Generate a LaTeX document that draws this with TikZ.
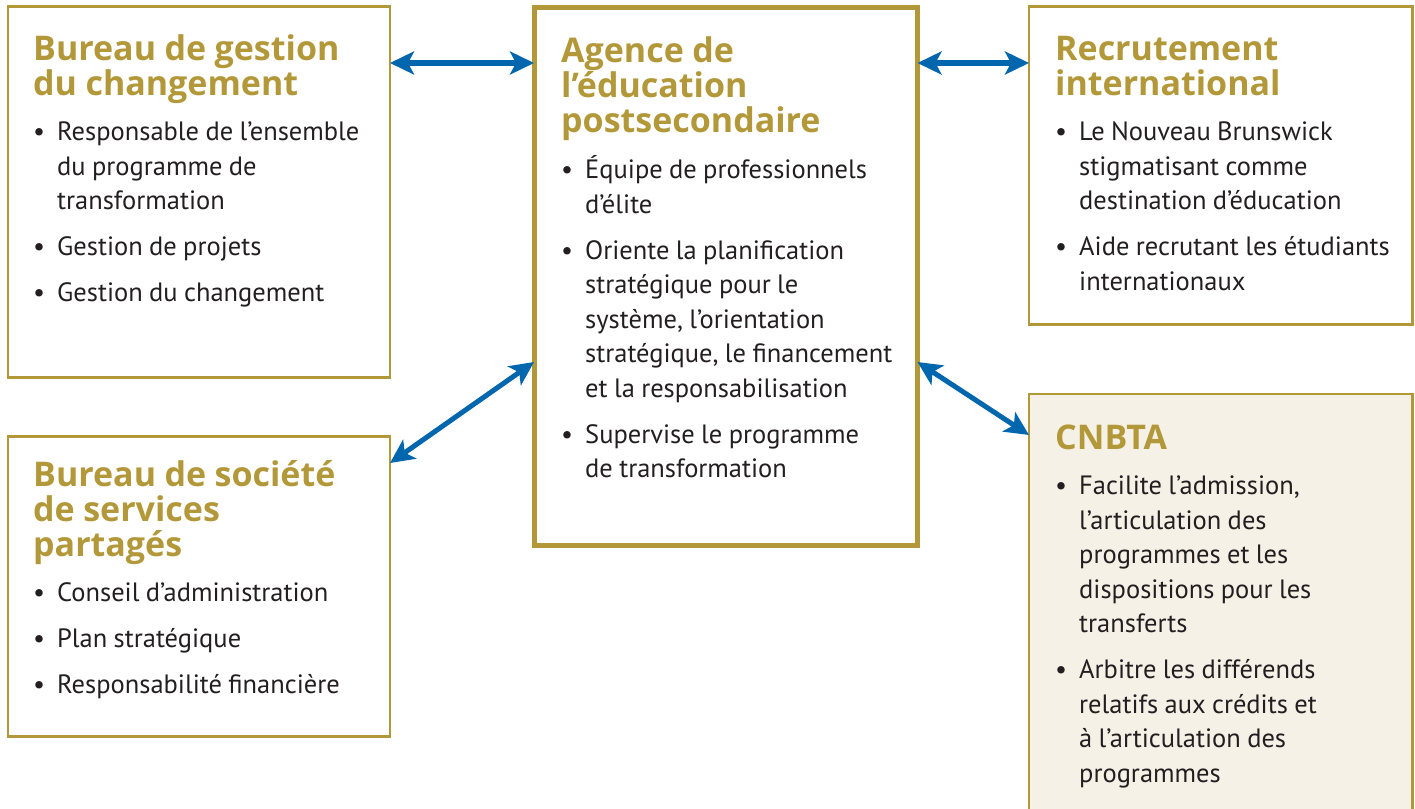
\documentclass[tikz,border=0pt]{standalone}
\usepackage{fontspec}
\setmainfont{PT Sans}
\newfontfamily\titrefont{Open Sans}
\usetikzlibrary{arrows.meta}
\definecolor{or}{RGB}{179,152,58}
\definecolor{bleu}{RGB}{0,102,173}
\definecolor{sable}{RGB}{245,241,230}
\definecolor{encre}{RGB}{35,31,32}
\newcommand{\corps}{\fontsize{26.5}{34.5}\selectfont\spaceskip=0.24em plus 0.1em\color{encre}\parskip=0pt\parindent=0pt}
\newcommand{\titre}[1]{{\color{or}\titrefont\bfseries\fontsize{34}{35}\selectfont\spaceskip=0.25em plus 0.1em #1\par}\vspace{11pt}}
\newcommand{\puce}[1]{\par\noindent\hangindent=24pt\hangafter=1\makebox[24pt][l]{•}{\let\\\newline #1}\par\vspace{11.5pt}}

\begin{document}
\begin{tikzpicture}[x=1pt,y=-1pt,
  panel/.style={draw=or, line width=2.5pt, anchor=north west, inner sep=0, outer sep=0},
  contenu/.style={anchor=base west, inner sep=0, text width=365pt},
  link/.style={draw=bleu, line width=5pt, {Stealth[length=24pt,width=23pt,inset=6pt]}-{Stealth[length=24pt,width=23pt,inset=6pt]}}]
  \useasboundingbox (0,0) rectangle (1415,808);
  \node[panel, minimum width=382, minimum height=371] (bgc) at (8,6.5) {};
  \node[panel, line width=5pt, minimum width=383.5, minimum height=538] (aep) at (534,7.5) {};
  \node[panel, minimum width=383.5, minimum height=318] (rec) at (1029,6.5) {};
  \node[panel, fill=sable, minimum width=383.5, minimum height=430] (cnbta) at (1029,394) {};
  \node[panel, minimum width=382, minimum height=300] (bss) at (8,436.5) {};
  \node[contenu] (bgc-txt) at (33,60) {\corps
    \titre{Bureau de gestion\\du changement}
    \puce{Responsable de l’ensemble\\du programme de\\transformation}
    \puce{Gestion de projets}
    \puce{Gestion du changement}};
  \node[contenu] (aep-txt) at (561,63) {\corps
    \titre{Agence de\\l’éducation\\postsecondaire}
    \puce{Équipe de professionnels\\d’élite}
    \puce{Oriente la planification\\stratégique pour le\\système, l’orientation\\stratégique, le financement\\et la responsabilisation}
    \puce{Supervise le programme\\de transformation}};
  \node[contenu] (rec-txt) at (1055,60) {\corps
    \titre{Recrutement\\international}
    \puce{Le Nouveau Brunswick\\stigmatisant comme\\destination d’éducation}
    \puce{Aide recrutant les étudiants\\internationaux}};
  \node[contenu] (cnbta-txt) at (1055,449) {\corps
    \titre{CNBTA}
    \puce{Facilite l’admission,\\l’articulation des\\programmes et les\\dispositions pour les\\transferts}
    \puce{Arbitre les différends\\relatifs aux crédits et\\à l’articulation des\\programmes}};
  \node[contenu] (bss-txt) at (33,486) {\corps
    \titre{Bureau de société\\de services\\partagés}
    \puce{Conseil d’administration}
    \puce{Plan stratégique}
    \puce{Responsabilité financière}};
  \draw[link] ([yshift=-56.5pt]bgc.north east) -- ([yshift=-55.5pt]aep.north west);
  \draw[link] ([yshift=-55.5pt]aep.north east) -- ([yshift=-56.5pt]rec.north west);
  \draw[link] ([yshift=-26.5pt]bss.north east) -- ([yshift=-354.5pt]aep.north west);
  \draw[link] ([yshift=-354.5pt]aep.north east) -- ([yshift=-41pt]cnbta.north west);
\end{tikzpicture}
\end{document}
